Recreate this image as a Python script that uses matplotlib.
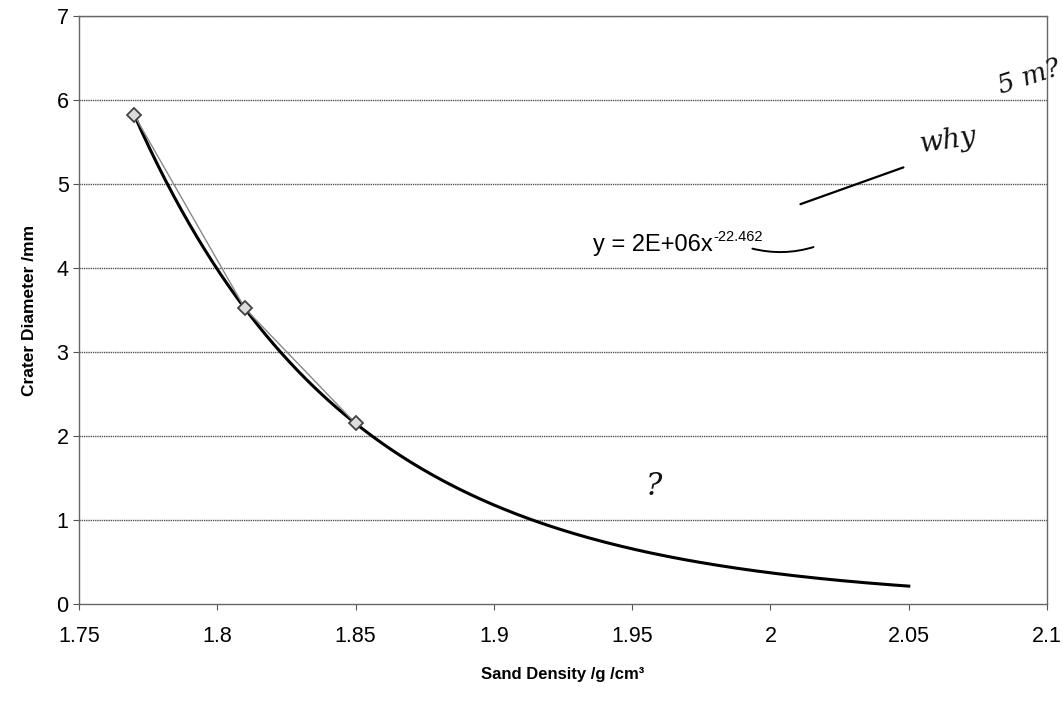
import numpy as np
import matplotlib
matplotlib.use("Agg")
import matplotlib.pyplot as plt

plt.rcParams['font.family'] = ['Liberation Sans', 'DejaVu Sans']

# measured points
density = [1.77, 1.81, 1.85]
diameter = [5.82, 3.52, 2.15]
trend_end = 2.05

x_ticks = [1.75, 1.8, 1.85, 1.9, 1.95, 2.0, 2.05, 2.1]
x_labels = ["1.75", "1.8", "1.85", "1.9", "1.95", "2", "2.05", "2.1"]
y_ticks = [0, 1, 2, 3, 4, 5, 6, 7]

# power trendline fitted like Excel does (log-log least squares)
b, loga = np.polyfit(np.log(density), np.log(diameter), 1)
xt = np.linspace(density[0], trend_end, 200)
yt = np.exp(loga) * xt ** b

fig = plt.figure(figsize=(10.63, 7.02), dpi=100)
ax = fig.add_axes([0.0743, 0.1396, 0.9107, 0.8374])

for v in y_ticks[1:]:
    ax.axhline(v, color="#555555", lw=1.0, ls=(0, (1, 0.6)), zorder=1)

ax.plot(xt, yt, color="black", lw=2.2, zorder=3)
ax.plot(density, diameter, color="#888888", lw=1.0, marker="D", ms=7.5,
        mfc="#dddddd", mec="#444444", mew=1.3, zorder=4)

ax.set_xlim(1.75, 2.1)
ax.set_ylim(0, 7)
ax.set_xticks(x_ticks)
ax.set_xticklabels(x_labels)
ax.set_yticks(y_ticks)
ax.tick_params(axis="both", labelsize=15.5, length=4, color="#555555")
ax.tick_params(axis="x", pad=12)
for s in ax.spines.values():
    s.set_color("#666666")
    s.set_linewidth(1.0)

ax.set_xlabel("Sand Density /g /cm\u00b3", fontsize=12, fontweight="bold", labelpad=14)
ax.set_ylabel("Crater Diameter /mm", fontsize=12.5, fontweight="bold", labelpad=14)

# trendline equation as Excel shows it
eq = ax.annotate("y = 2E+06x", xy=(1.936, 4.2), fontsize=17)
ax.annotate("-22.462", xy=(1, 1), xycoords=eq, xytext=(0, 3),
            textcoords="offset points", fontsize=10.5, va="top")

# handwritten notes
hand = dict(family="DejaVu Serif", style="italic", color="#111111")
ax.annotate("", xy=(2.049, 5.21), xytext=(2.0099, 4.75),
            arrowprops=dict(arrowstyle="-", color="black", lw=1.6))
ax.annotate("", xy=(2.0165, 4.26), xytext=(1.9925, 4.24),
            arrowprops=dict(arrowstyle="-", color="black", lw=1.4,
                            connectionstyle="arc3,rad=0.15"))
ax.text(2.0534, 5.38, "why", fontsize=20, rotation=8, **hand)
ax.text(2.081, 6.08, "5 m?", fontsize=19, rotation=18, **hand)
ax.text(1.955, 1.3, "?", fontsize=22, **hand)

fig.savefig("out.png", dpi=100)
